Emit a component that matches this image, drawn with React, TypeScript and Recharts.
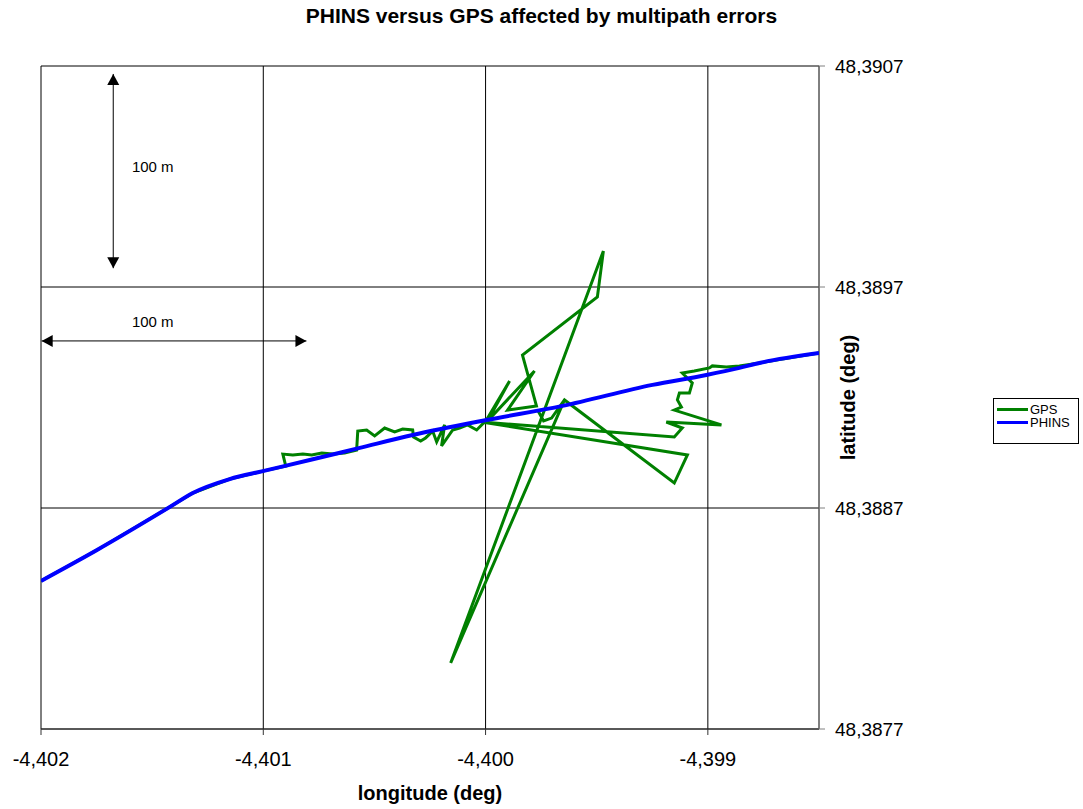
import React from 'react';
import {
  ScatterChart,
  Scatter,
  XAxis,
  YAxis,
  CartesianGrid,
  Legend,
  ReferenceLine,
  ReferenceDot,
  Label,
} from 'recharts';

const FONT = '"Liberation Sans", Arial, sans-serif';

// GPS track (deg) - follows PHINS on the left, multipath jumps around -4.400
const gpsLon = [
  -4.402, -4.401748, -4.40142, -4.401317, -4.401151, -4.401002, -4.400899, -4.400912,
  -4.400867, -4.400822, -4.400782, -4.400737, -4.400688, -4.400634, -4.40058, -4.400575,
  -4.400535, -4.400499, -4.400454, -4.400409, -4.400373, -4.400328, -4.400324, -4.400292,
  -4.40027, -4.400238, -4.40022, -4.400184, -4.400198, -4.400148, -4.400117, -4.400081,
  -4.40004, -4.399996, -4.399892, -4.399991, -4.39978, -4.399901, -4.399771, -4.399834,
  -4.399497, -4.39947, -4.400157, -4.399645, -4.399703, -4.399739, -4.399766, -4.399739,
  -4.399703, -4.399645, -4.399151, -4.399092, -4.400018, -4.399151, -4.399115, -4.399187,
  -4.398939, -4.399151, -4.399119, -4.399137, -4.399128, -4.399083, -4.39907, -4.399115,
  -4.399061, -4.398993, -4.39898, -4.398917, -4.398858, -4.398768, -4.398665, -4.3985,
];
const gpsLat = [
  48.38837, 48.38851, 48.388705, 48.388768, 48.388831, 48.388867, 48.38889, 48.388944,
  48.38894, 48.388944, 48.38894, 48.388949, 48.388944, 48.388949, 48.388962, 48.389048,
  48.389053, 48.389026, 48.389062, 48.389044, 48.389057, 48.389053, 48.389021, 48.389003,
  48.389017, 48.389048, 48.388999, 48.389076, 48.388981, 48.389053, 48.389062, 48.389076,
  48.389053, 48.389098, 48.389275, 48.389094, 48.38932, 48.389143, 48.389162, 48.389392,
  48.389655, 48.389863, 48.387999, 48.389189, 48.389107, 48.389094, 48.389143, 48.389094,
  48.389107, 48.389189, 48.388813, 48.38894, 48.389089, 48.389021, 48.389062, 48.389089,
  48.389076, 48.389143, 48.389157, 48.389189, 48.38922, 48.38922, 48.389266, 48.389311,
  48.38932, 48.389334, 48.389343, 48.389338, 48.389343, 48.389356, 48.389374, 48.389401,
];

// PHINS trajectory (deg)
const phinsLon = [
  -4.402, -4.401748, -4.40142, -4.401317, -4.401151, -4.401002, -4.400791, -4.400566,
  -4.400328, -4.399996, -4.399654, -4.399249, -4.399007, -4.398858, -4.398768, -4.3985,
];
const phinsLat = [
  48.38837, 48.38851, 48.388705, 48.388768, 48.388831, 48.388867, 48.388917, 48.388972,
  48.38903, 48.389098, 48.389162, 48.389257, 48.389302, 48.389334, 48.389356, 48.389401,
];

const lonTicks = [-4.402, -4.401, -4.4, -4.399];
const latTicks = [48.3877, 48.3887, 48.3897, 48.3907];

// 100 m scale bars (deg)
const vBarLon = -4.401675;
const vBarLat = [48.390664, 48.389785];
const vBarTextLat = 48.390243;
const hBarLat = 48.389456;
const hBarLon = [-4.401997, -4.400806];
const hBarTextLat = 48.389543;
const barTextLon = -4.401591;

const gps = gpsLon.map((lon, i) => ({ lon, lat: gpsLat[i] }));
const phins = phinsLon.map((lon, i) => ({ lon, lat: phinsLat[i] }));

const fmtLon = (v: number) => v.toFixed(3).replace('.', ',');
const fmtLat = (v: number) => v.toFixed(4).replace('.', ',');

const noDot = () => <g />;

const arrowShape = (props: any) => {
  const { x1, y1, x2, y2 } = props;
  const len = Math.hypot(x2 - x1, y2 - y1) || 1;
  const ux = (x2 - x1) / len;
  const uy = (y2 - y1) / len;
  const head = 11;
  const half = 6;
  const tri = (tx: number, ty: number, dx: number, dy: number) => {
    const bx = tx - dx * head;
    const by = ty - dy * head;
    return `${tx},${ty} ${bx - dy * half},${by + dx * half} ${bx + dy * half},${by - dx * half}`;
  };
  return (
    <g>
      <line x1={x1} y1={y1} x2={x2} y2={y2} stroke="#000" strokeWidth={1} />
      <polygon points={tri(x1, y1, -ux, -uy)} fill="#000" />
      <polygon points={tri(x2, y2, ux, uy)} fill="#000" />
    </g>
  );
};

const barText = (props: any) => (
  <text x={props.cx} y={props.cy} dy="0.35em" fontSize={15} fontFamily={FONT} fill="#000">
    100 m
  </text>
);

const renderLegend = (props: any) => {
  const { payload } = props;
  return (
    <div
      style={{
        border: '1px solid #000',
        background: '#fff',
        padding: '4px 3px',
        boxSizing: 'border-box',
        width: 86,
        height: 46,
        fontFamily: FONT,
        fontSize: 13,
        color: '#000',
      }}
    >
      {(payload || []).map((entry: any) => (
        <div key={entry.value} style={{ display: 'flex', alignItems: 'center', height: 13 }}>
          <span
            style={{
              display: 'inline-block',
              width: 31,
              height: 0,
              borderTop: `3px solid ${entry.color}`,
              marginRight: 2,
            }}
          />
          <span>{entry.value}</span>
        </div>
      ))}
    </div>
  );
};

const latLabel = (props: any) => {
  const { x, y, height } = props.viewBox;
  const cx = x + 29;
  const cy = y + height / 2;
  return (
    <text
      x={cx}
      y={cy}
      transform={`rotate(-90, ${cx}, ${cy})`}
      textAnchor="middle"
      dy="0.35em"
      fontSize={20}
      fontWeight="bold"
      fontFamily={FONT}
      fill="#000"
    >
      latitude (deg)
    </text>
  );
};

export default function App() {
  return (
    <div style={{ position: 'absolute', left: 0, top: 0, width: 1083, height: 809, background: '#fff' }}>
      <div
        style={{
          position: 'absolute',
          top: 4,
          left: 0,
          width: 1083,
          textAlign: 'center',
          fontFamily: FONT,
          fontWeight: 'bold',
          fontSize: 21,
          color: '#000',
        }}
      >
        PHINS versus GPS affected by multipath errors
      </div>
      <ScatterChart width={1083} height={809} margin={{ top: 66, right: 206, bottom: 0, left: 41 }}>
        <CartesianGrid stroke="#000" strokeWidth={1} />
        <XAxis
          type="number"
          dataKey="lon"
          domain={[-4.402, -4.3985]}
          allowDataOverflow
          ticks={lonTicks}
          tickFormatter={fmtLon}
          height={80}
          tickSize={6}
          tickMargin={17}
          stroke="#333"
          tick={{ fill: '#000', fontSize: 20, fontFamily: FONT }}
        >
          <Label
            value="longitude (deg)"
            position="insideBottom"
            offset={9}
            style={{ fontSize: 20, fontWeight: 'bold', fontFamily: FONT, fill: '#000' }}
          />
        </XAxis>
        <YAxis
          type="number"
          dataKey="lat"
          orientation="right"
          domain={[48.3877, 48.3907]}
          allowDataOverflow
          ticks={latTicks}
          tickFormatter={fmtLat}
          width={58}
          tickSize={6}
          tickMargin={10}
          stroke="#808080"
          tick={{ fill: '#000', fontSize: 19, fontFamily: FONT }}
          label={{ content: latLabel }}
        />
        <Scatter
          name="GPS"
          data={gps}
          fill="#008000"
          strokeWidth={3}
          line={{ stroke: '#008000', strokeWidth: 3 }}
          lineType="joint"
          shape={noDot}
          isAnimationActive={false}
        />
        <Scatter
          name="PHINS"
          data={phins}
          fill="#0000FF"
          strokeWidth={4}
          line={{ stroke: '#0000FF', strokeWidth: 4 }}
          lineType="joint"
          lineJointType="monotoneX"
          shape={noDot}
          isAnimationActive={false}
        />
        <ReferenceLine
          segment={[
            { x: vBarLon, y: vBarLat[0] },
            { x: vBarLon, y: vBarLat[1] },
          ]}
          ifOverflow="visible"
          shape={arrowShape}
        />
        <ReferenceLine
          segment={[
            { x: hBarLon[0], y: hBarLat },
            { x: hBarLon[1], y: hBarLat },
          ]}
          ifOverflow="visible"
          shape={arrowShape}
        />
        <ReferenceDot x={barTextLon} y={vBarTextLat} r={0} ifOverflow="visible" shape={barText} />
        <ReferenceDot x={barTextLon} y={hBarTextLat} r={0} ifOverflow="visible" shape={barText} />
        <Legend
          layout="horizontal"
          verticalAlign="middle"
          align="center"
          content={renderLegend}
          wrapperStyle={{ position: 'absolute', left: 993, top: 398, width: 86, height: 46 }}
        />
      </ScatterChart>
    </div>
  );
}
